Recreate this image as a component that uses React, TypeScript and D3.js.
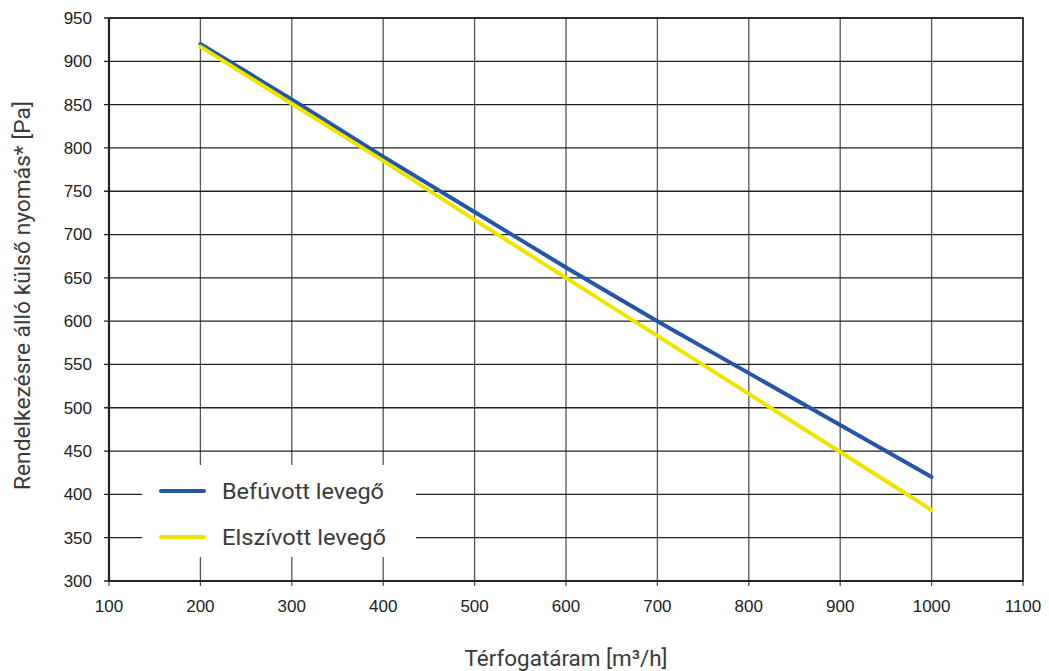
import React from "react";
import * as d3 from "d3";

const xValues = [200, 300, 400, 500, 600, 700, 800, 900, 1000];
const befuvott = [920, 856, 790, 726, 662, 600, 540, 480, 420];
const elszivott = [917, 851, 785, 717, 650, 583, 516, 449, 382];
const xTicks = [100, 200, 300, 400, 500, 600, 700, 800, 900, 1000, 1100];
const yTicks = [300, 350, 400, 450, 500, 550, 600, 650, 700, 750, 800, 850, 900, 950];
const seriesNames = ["Befúvott levegő", "Elszívott levegő"];
const colors = ["#2456a4", "#ede500"];

export default function App() {
  const W = 1049, H = 671;
  const left = 109, right = 1023, top = 18, bottom = 581;
  const x = d3.scaleLinear().domain([100, 1100]).range([left, right]);
  const y = d3.scaleLinear().domain([300, 950]).range([bottom, top]);
  const line = d3.line<number>().x((_, i) => x(xValues[i])).y((d) => y(d));
  const series = [befuvott, elszivott];
  const titleFont = "Roboto, 'Noto Sans', sans-serif";
  const tickFont = "'Liberation Sans', Arial, sans-serif";
  const lg = { x0: 142, x1: 416, y0: 465, y1: 557 };
  return (
    <svg width={W} height={H} style={{ position: "absolute", left: 0, top: 0 }}>
      <rect width={W} height={H} fill="#fff" />
      {xTicks.map((t) => (
        <line key={"gx" + t} x1={x(t)} x2={x(t)} y1={top} y2={bottom + 5} stroke="#555" strokeWidth={1.3} />
      ))}
      {yTicks.map((t) => (
        <line key={"gy" + t} x1={left - 5} x2={right} y1={y(t)} y2={y(t)} stroke="#222" strokeWidth={1.3} />
      ))}
      <rect x={left} y={top} width={right - left} height={bottom - top} fill="none" stroke="#222" strokeWidth={1.5} />
      <line x1={left} x2={left} y1={top} y2={bottom} stroke="#222" strokeWidth={2.2} />
      <line x1={left} x2={right} y1={bottom} y2={bottom} stroke="#222" strokeWidth={2.2} />
      {series.map((s, i) => (
        <path key={i} d={line(s) || ""} fill="none" stroke={colors[i]} strokeWidth={4} strokeLinecap="round" />
      ))}
      <rect x={lg.x0} y={lg.y0} width={lg.x1 - lg.x0} height={lg.y1 - lg.y0} fill="#fff" />
      {seriesNames.map((n, i) => (
        <g key={n}>
          <line x1={161} x2={204} y1={491 + i * 46} y2={491 + i * 46} stroke={colors[i]} strokeWidth={4} strokeLinecap="round" />
          <text x={222} y={491 + i * 46} dy="0.36em" fontFamily={titleFont} fontWeight={400} fontSize={22} fill="#3a3a3a"
            textLength={i === 0 ? 162 : 164} lengthAdjust="spacingAndGlyphs">{n}</text>
        </g>
      ))}
      {yTicks.map((t) => (
        <text key={"ty" + t} x={left - 17} y={y(t)} dy="0.35em" textAnchor="end" fontFamily={tickFont} fontSize={17} fill="#222">{t}</text>
      ))}
      {xTicks.map((t) => (
        <text key={"tx" + t} x={x(t)} y={bottom + 25} dy="0.35em" textAnchor="middle" fontFamily={tickFont} fontSize={17} fill="#222">{t}</text>
      ))}
      <text x={566} y={658} dy="0.36em" textAnchor="middle" fontFamily={titleFont} fontWeight={400} fontSize={22} fill="#3a3a3a"
        textLength={203} lengthAdjust="spacingAndGlyphs">Térfogatáram [m³/h]</text>
      <text transform={`translate(22,295.5) rotate(-90)`} dy="0.36em" textAnchor="middle" fontFamily={titleFont} fontWeight={400} fontSize={22} fill="#3a3a3a"
        textLength={389} lengthAdjust="spacingAndGlyphs">Rendelkezésre álló külső nyomás* [Pa]</text>
    </svg>
  );
}
